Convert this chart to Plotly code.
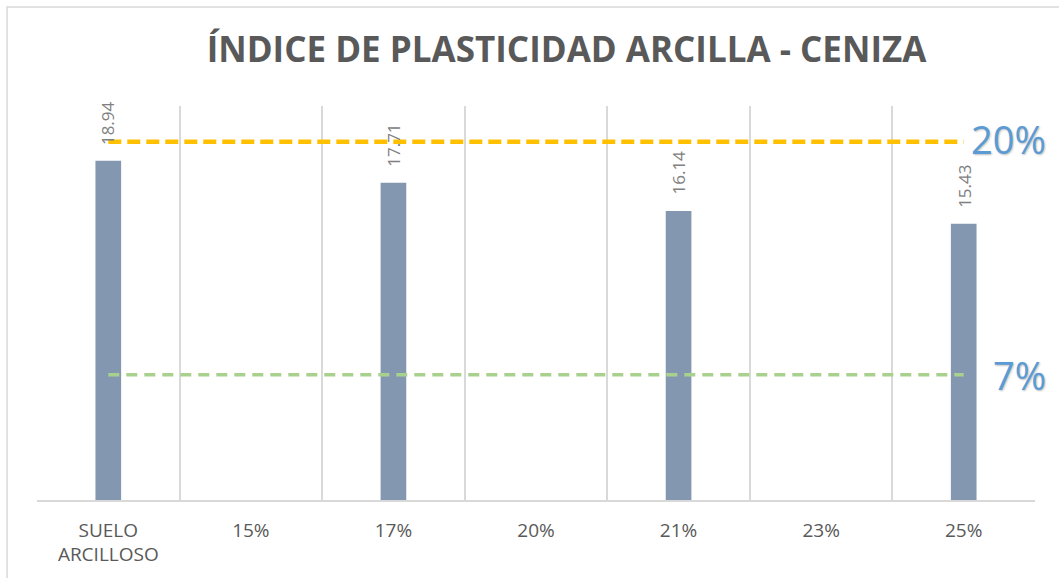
import plotly.graph_objects as go

# ---- data ----
categories = ["SUELO<br>ARCILLOSO", "15%", "17%", "20%", "21%", "23%", "25%"]
ip_values = [18.94, None, 17.71, None, 16.14, None, 15.43]
limit_high = 20
limit_low = 7
limit_high_label = "20%"
limit_low_label = "7%"
title_text = "ÍNDICE DE PLASTICIDAD ARCILLA - CENIZA"

fig = go.Figure()

fig.add_trace(go.Bar(
    x=categories, y=ip_values,
    width=0.18,
    marker=dict(color="#8497B0", line=dict(width=0)),
    showlegend=False,
))

# value labels above bars (rotated)
for cat, val in zip(categories, ip_values):
    if val is None:
        continue
    fig.add_annotation(x=cat, y=val, xref="x", yref="y",
                       text=f"{val:.2f}", textangle=-90, showarrow=False,
                       xanchor="center", yanchor="bottom", yshift=14,
                       font=dict(family="Open Sans", size=17, color="#808080"))

fig.add_trace(go.Scatter(
    x=categories, y=[limit_high] * len(categories),
    mode="lines",
    line=dict(color="#FFC000", width=4.5, dash="13px,6px"),
    showlegend=False, hoverinfo="skip",
))
fig.add_trace(go.Scatter(
    x=categories, y=[limit_low] * len(categories),
    mode="lines",
    line=dict(color="#A9D18E", width=3.5, dash="11px,7px"),
    showlegend=False, hoverinfo="skip",
))

label_font = dict(family="Open Sans", size=38, color="#5B9BD5",
                  shadow="1px 1px 2px rgba(0,0,0,0.25)")
fig.add_annotation(x=1, xref="paper", xanchor="right", xshift=13,
                   y=limit_high, yref="y", yanchor="middle", yshift=3,
                   text=limit_high_label, showarrow=False, font=label_font)
fig.add_annotation(x=1, xref="paper", xanchor="right", xshift=13,
                   y=limit_low, yref="y", yanchor="middle",
                   text=limit_low_label, showarrow=False, font=label_font)

# chart outer border
fig.add_shape(type="rect", xref="paper", yref="paper",
              x0=-0.030, x1=1.05, y0=-0.25, y1=1.251,
              line=dict(color="#D9D9D9", width=1.5), fillcolor="rgba(0,0,0,0)",
              layer="below")

fig.update_layout(
    width=1059, height=578,
    margin=dict(l=37, r=24, t=106, b=78),
    paper_bgcolor="white", plot_bgcolor="white",
    title=dict(text="<b>" + title_text + "</b>", x=0.535, xanchor="center",
               y=1 - 50 / 578, yanchor="middle",
               font=dict(family="Open Sans", size=35, color="#595959")),
)
fig.update_xaxes(
    type="category", range=[-0.5, 6.5],
    tickson="boundaries", showgrid=True, gridcolor="#D9D9D9", gridwidth=1.5,
    showline=True, linecolor="#D9D9D9", linewidth=1.5,
    ticks="", ticklabelstandoff=12,
    tickfont=dict(family="Open Sans", size=19, color="#595959"),
)
fig.update_yaxes(range=[0, 22], visible=False, showgrid=False)

fig.write_html("out.html")
